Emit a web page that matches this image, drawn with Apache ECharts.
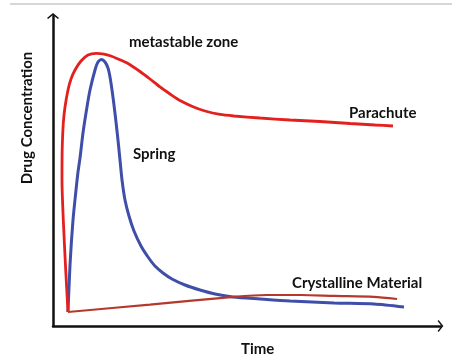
<!DOCTYPE html>
<html>
<head>
<meta charset="utf-8">
<script src="https://cdn.jsdelivr.net/npm/echarts@6/dist/echarts.min.js"></script>
<style>html,body{margin:0;padding:0;background:#fff}#c{width:468px;height:360px}</style>
</head>
<body>
<div id="c"></div>
<script>
// Data (arbitrary units, time 0-100, concentration 0-100)
const parachuteTime = [3.87, 3.28, 2.66, 2.32, 2.37, 2.66, 3.10, 3.87, 4.65, 5.68, 7.23, 9.03, 11.10, 13.16, 14.97, 16.52, 19.35, 22.45, 25.03, 27.61, 30.19, 32.77, 36.13, 39.23, 43.10, 46.71, 53.42, 61.16, 68.90, 76.65, 83.10, 87.74];
const parachuteConc = [4.52, 18.06, 34.19, 47.10, 56.77, 65.48, 70.65, 76.13, 79.68, 82.58, 85.48, 87.42, 87.97, 87.74, 87.10, 86.29, 84.68, 82.10, 79.68, 77.10, 74.84, 72.74, 70.74, 69.35, 68.23, 67.74, 67.10, 66.45, 65.97, 65.32, 64.84, 64.52];

const springTime = [3.87, 4.39, 5.16, 5.94, 6.45, 6.97, 7.74, 8.77, 9.55, 10.84, 11.61, 12.52, 13.42, 14.19, 14.71, 15.23, 15.74, 16.26, 16.77, 17.29, 17.81, 18.58, 19.61, 20.90, 22.71, 24.52, 26.32, 28.39, 30.71, 34.06, 37.94, 41.81, 46.45, 53.42, 61.16, 72.52, 82.84, 90.58];
const springConc = [4.52, 19.68, 34.19, 43.87, 49.68, 54.19, 62.26, 70.65, 76.13, 82.58, 85.16, 85.97, 85.16, 83.23, 80.32, 76.13, 71.29, 65.81, 60.00, 53.55, 47.10, 40.65, 35.48, 30.65, 25.81, 22.26, 19.35, 17.10, 15.16, 13.23, 11.61, 10.32, 9.35, 8.71, 8.06, 7.42, 7.10, 6.13];

const crystTime = [3.87, 25.0, 46.7, 55.2, 64.0, 72.5, 82.8, 88.8];
const crystConc = [4.52, 6.9, 9.4, 10.0, 10.0, 9.7, 9.4, 8.7];

const labels = {
  meta: 'metastable zone',
  parachute: 'Parachute',
  spring: 'Spring',
  cryst: 'Crystalline Material',
  xName: 'Time',
  yName: 'Drug Concentration'
};

const zip = (a, b) => a.map((v, i) => [v, b[i]]);

const FONT = 'Lato';
const FS = 15;
const chart = echarts.init(document.getElementById('c'), null, {renderer: 'canvas'});
const arrow = 'path://M0,0 L10,8 L8.3,9.6 L0,3.2 L-8.3,9.6 L-10,8 Z';
const axisCommon = {
  type: 'value', min: 0, max: 100,
  axisLine: {show: true, onZero: false, symbol: ['none', arrow], symbolSize: [12, 9], lineStyle: {color: '#111', width: 2.5}},
  axisTick: {show: false}, axisLabel: {show: false}, splitLine: {show: false}
};
const txt = (t, x, y) => ({
  type: 'text', x: x, y: y,
  style: {text: t, fill: '#111', font: 'bold ' + FS + 'px ' + FONT, textVerticalAlign: 'middle'}
});

chart.setOption({
  animation: false,
  grid: {left: 53, top: 16, right: 27.5, bottom: 34},
  xAxis: axisCommon,
  yAxis: axisCommon,
  graphic: [
    {type: 'line', shape: {x1: 10, y1: 4, x2: 452, y2: 4}, style: {stroke: '#c8c8c8', lineWidth: 1.5}},
    txt(labels.meta, 129, 42),
    txt(labels.parachute, 349, 113),
    txt(labels.spring, 133, 154),
    txt(labels.cryst, 292, 283),
    txt(labels.xName, 241, 349),
    {type: 'text', x: 27, y: 118, rotation: Math.PI / 2,
     style: {text: labels.yName, fill: '#111', font: 'bold ' + FS + 'px ' + FONT, textAlign: 'center', textVerticalAlign: 'middle'}}
  ],
  series: [
    {type: 'line', name: 'Spring', data: zip(springTime, springConc), showSymbol: false, smooth: 0.25,
     lineStyle: {color: '#3f4ea8', width: 3}},
    {type: 'line', name: 'Parachute', data: zip(parachuteTime, parachuteConc), showSymbol: false, smooth: 0.25,
     lineStyle: {color: '#e4201f', width: 2.8}},
    {type: 'line', name: 'Crystalline', data: zip(crystTime, crystConc), showSymbol: false, smooth: 0.25,
     lineStyle: {color: '#b5382d', width: 2.2}}
  ]
});
</script>
</body>
</html>
